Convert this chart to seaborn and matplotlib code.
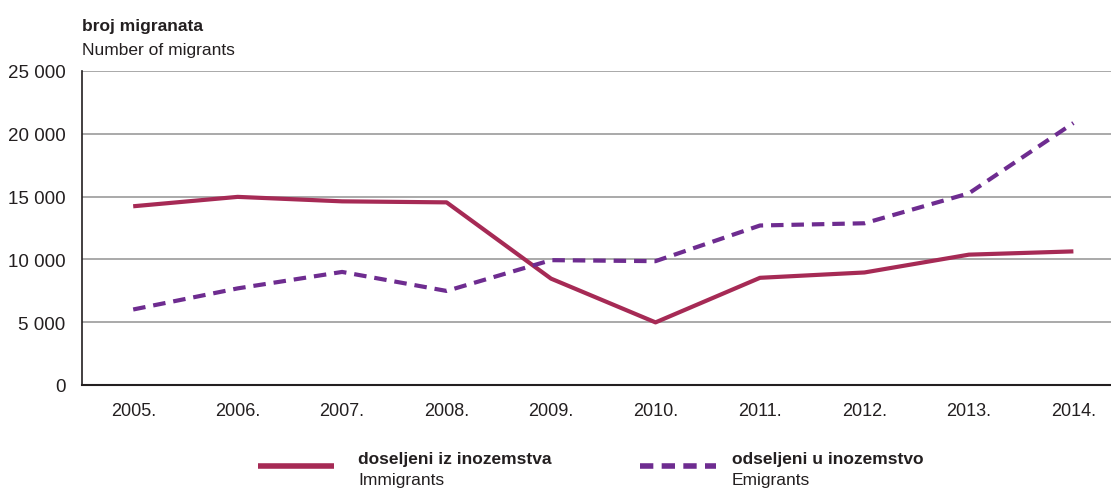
import numpy as np
import pandas as pd
import seaborn as sns
import matplotlib.pyplot as plt
from matplotlib.lines import Line2D

# data
years = ['2005.', '2006.', '2007.', '2008.', '2009.', '2010.', '2011.', '2012.', '2013.', '2014.']
immigrants = [14230, 14978, 14622, 14541, 8468, 4985, 8534, 8959, 10378, 10638]
emigrants = [6012, 7692, 9002, 7488, 9940, 9860, 12699, 12877, 15262, 20858]
y_ticks = [0, 5000, 10000, 15000, 20000, 25000]

imm_color = '#A62A55'
emi_color = '#6E2C90'
txt = '#231F20'

sns.set_theme(style='white')
plt.rcParams['font.family'] = ['Liberation Sans', 'DejaVu Sans']

df = pd.DataFrame({'year': years, 'imm': immigrants, 'emi': emigrants})

fig = plt.figure(figsize=(11.11, 4.89), dpi=100)
ax = fig.add_axes([82 / 1111, 1 - 386 / 489, 1 - 82 / 1111, (386 - 72) / 489])

for v in y_ticks[1:]:
    ax.axhline(v, color='#A3A3A3', lw=1.3, zorder=0)

sns.lineplot(data=df, x='year', y='imm', color=imm_color, lw=3, ax=ax,
             solid_capstyle='butt', sort=False)
sns.lineplot(data=df, x='year', y='emi', color=emi_color, lw=3, ax=ax,
             dashes=False, sort=False)
ax.lines[-1].set_linestyle((0, (3.0, 1.9)))
ax.lines[-1].set_dash_capstyle('butt')

ax.set_xlim(-0.49, 9.36)
ax.set_ylim(0, 25000)
ax.set_yticks(y_ticks)
ax.set_yticklabels([f'{v:,}'.replace(',', ' ') for v in y_ticks])
ax.set_xlabel('')
ax.set_ylabel('')

ax.set_xticks(np.arange(0.5, 9.5, 1), minor=True)
ax.tick_params(axis='x', which='major', length=0, pad=12, labelsize=13, labelcolor=txt)
ax.tick_params(axis='x', which='minor', direction='in', length=7, width=1, color='#555555')
ax.tick_params(axis='y', length=0, pad=12, labelsize=13.5, labelcolor=txt)

for s in ['top', 'right']:
    ax.spines[s].set_visible(False)
ax.spines['left'].set_color(txt)
ax.spines['left'].set_linewidth(1.2)
ax.spines['bottom'].set_color(txt)
ax.spines['bottom'].set_linewidth(1.5)

fig.text(82 / 1111, 1 - 27 / 489, 'broj migranata', fontsize=12.5, fontweight='bold',
         va='center', ha='left', color=txt)
fig.text(82 / 1111, 1 - 50 / 489, 'Number of migrants', fontsize=12.5,
         va='center', ha='left', color=txt)

# legend drawn by hand
fig.add_artist(Line2D([258 / 1111, 334 / 1111], [1 - 467 / 489] * 2, color=imm_color, lw=4,
                      solid_capstyle='butt'))
fig.add_artist(Line2D([640 / 1111, 716 / 1111], [1 - 467 / 489] * 2, color=emi_color, lw=4,
                      linestyle=(0, (2.4, 1.5)), dash_capstyle='butt'))
fig.text(358 / 1111, 1 - 460 / 489, 'doseljeni iz inozemstva', fontsize=12.5, fontweight='bold',
         va='center', ha='left', color=txt)
fig.text(358 / 1111, 1 - 481 / 489, 'Immigrants', fontsize=12.5, va='center', ha='left', color=txt)
fig.text(732 / 1111, 1 - 460 / 489, 'odseljeni u inozemstvo', fontsize=12.5, fontweight='bold',
         va='center', ha='left', color=txt)
fig.text(732 / 1111, 1 - 481 / 489, 'Emigrants', fontsize=12.5, va='center', ha='left', color=txt)

fig.savefig('out.png', dpi=100)
